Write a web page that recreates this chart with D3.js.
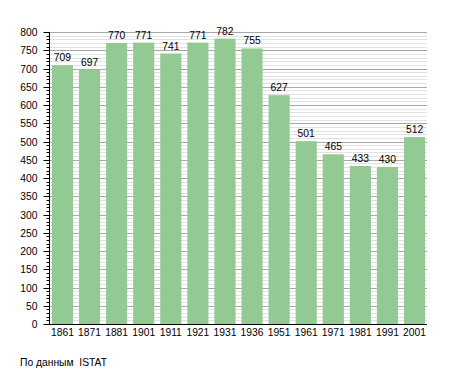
<!DOCTYPE html>
<meta charset="utf-8">
<style>
    body { margin: 0; background: #fff; }
    text { font-family: "Liberation Sans", Arial, sans-serif; font-size: 10.3px; fill: #000; }
</style>
<script src="https://d3js.org/d3.v7.min.js"></script>
<body>
<script>
    var years = ["1861", "1871", "1881", "1901", "1911", "1921", "1931", "1936", "1951", "1961", "1971", "1981", "1991", "2001"];
    var population = [709, 697, 770, 771, 741, 771, 782, 755, 627, 501, 465, 433, 430, 512];
    var yTicks = [0, 50, 100, 150, 200, 250, 300, 350, 400, 450, 500, 550, 600, 650, 700, 750, 800];

    var width = 455, height = 373;
    var plotLeft = 50, plotRight = 427, plotTop = 32, plotBottom = 324;

    var svg = d3.select("body").append("svg")
        .attr("width", width)
        .attr("height", height);

    var x = d3.scaleBand().domain(years).range([plotLeft, plotRight]).paddingInner(0.22).paddingOuter(0.07);
    var y = d3.scaleLinear().domain([0, 800]).range([plotBottom, plotTop]);

    function py(d) { return Math.round(y(d)) + 0.5; }

    // grid: minor every 10, major every 50
    var minor = d3.range(10, 801, 10).filter(function(d) { return d % 50 != 0; });
    svg.append("g").selectAll("line")
        .data(minor)
        .enter().append("line")
        .attr("x1", plotLeft).attr("x2", plotRight)
        .attr("y1", py).attr("y2", py)
        .attr("stroke", "#e2e2e2");
    svg.append("g").selectAll("line")
        .data(yTicks.slice(1))
        .enter().append("line")
        .attr("x1", plotLeft).attr("x2", plotRight)
        .attr("y1", py).attr("y2", py)
        .attr("stroke", "#a8a8a8");

    svg.append("g").selectAll("rect")
        .data(population)
        .enter().append("rect")
        .attr("x", function(d, i) { return x(years[i]); })
        .attr("width", x.bandwidth())
        .attr("y", function(d) { return y(d); })
        .attr("height", function(d) { return y(0) - y(d); })
        .attr("fill", "#93c993");

    svg.append("g").selectAll("text")
        .data(population)
        .enter().append("text")
        .attr("x", function(d, i) { return x(years[i]) + x.bandwidth() / 2; })
        .attr("y", function(d) { return y(d) - 4; })
        .attr("text-anchor", "middle")
        .text(function(d) { return d; });

    // y axis with minor ticks
    var yAxis = svg.append("g").attr("transform", "translate(" + (plotLeft - 0.5) + ",0)");
    yAxis.append("line").attr("y1", plotTop).attr("y2", plotBottom + 0.5).attr("stroke", "#000");
    yAxis.selectAll(".minor")
        .data(d3.range(0, 801, 10))
        .enter().append("line")
        .attr("x1", -3).attr("x2", 0)
        .attr("y1", py).attr("y2", py)
        .attr("stroke", "#000");
    yAxis.selectAll(".major")
        .data(yTicks)
        .enter().append("line")
        .attr("x1", -6).attr("x2", 0)
        .attr("y1", py).attr("y2", py)
        .attr("stroke", "#000");
    yAxis.selectAll("text")
        .data(yTicks)
        .enter().append("text")
        .attr("x", -12)
        .attr("y", function(d) { return y(d) + 4; })
        .attr("text-anchor", "end")
        .text(function(d) { return d; });

    // x axis
    svg.append("line")
        .attr("x1", plotLeft - 1).attr("x2", plotRight)
        .attr("y1", plotBottom + 0.5).attr("y2", plotBottom + 0.5)
        .attr("stroke", "#000");
    svg.append("g").selectAll("text")
        .data(years)
        .enter().append("text")
        .attr("x", function(d) { return x(d) + x.bandwidth() / 2; })
        .attr("y", plotBottom + 12)
        .attr("text-anchor", "middle")
        .text(function(d) { return d; });

    svg.append("text")
        .attr("x", 20)
        .attr("y", 366)
        .attr("xml:space", "preserve")
        .style("white-space", "pre")
        .text("По данным  ISTAT");
</script>
